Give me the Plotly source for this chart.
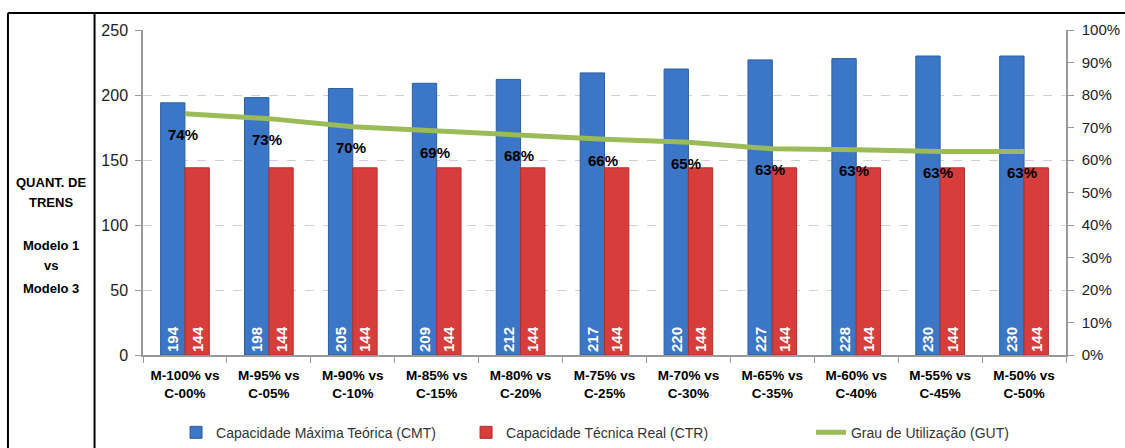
import plotly.graph_objects as go

categories = ["M-100% vs<br>C-00%", "M-95% vs<br>C-05%", "M-90% vs<br>C-10%", "M-85% vs<br>C-15%",
              "M-80% vs<br>C-20%", "M-75% vs<br>C-25%", "M-70% vs<br>C-30%", "M-65% vs<br>C-35%",
              "M-60% vs<br>C-40%", "M-55% vs<br>C-45%", "M-50% vs<br>C-50%"]
cmt = [194, 198, 205, 209, 212, 217, 220, 227, 228, 230, 230]
ctr = [144, 144, 144, 144, 144, 144, 144, 144, 144, 144, 144]
gut = [0.7423, 0.7273, 0.7024, 0.6890, 0.6792, 0.6636, 0.6545, 0.6344, 0.6316, 0.6261, 0.6261]
side_lines = ["QUANT. DE", "TRENS", "Modelo 1", "vs", "Modelo 3"]

FONT = "Liberation Sans, Arial, sans-serif"
BLUE = "#3b77c6"
RED = "#d63d3b"
GREEN = "#9bbb59"

fig = go.Figure()
fig.add_trace(go.Bar(
    x=categories, y=cmt, name="Capacidade Máxima Teórica (CMT)", legend="legend",
    marker=dict(color=BLUE, line=dict(color="#2d5f9e", width=1)),
    text=[str(v) for v in cmt], textposition="inside", insidetextanchor="start",
    textangle=-90, textfont=dict(color="white", size=15, family=FONT, weight="bold"),
))
fig.add_trace(go.Bar(
    x=categories, y=ctr, name="Capacidade Técnica Real (CTR)", legend="legend2",
    marker=dict(color=RED, line=dict(color="#a83230", width=1)),
    text=[str(v) for v in ctr], textposition="inside", insidetextanchor="start",
    textangle=-90, textfont=dict(color="white", size=15, family=FONT, weight="bold"),
))
fig.add_trace(go.Scatter(
    x=categories, y=gut, name="Grau de Utilização (GUT)", yaxis="y2", legend="legend3",
    mode="lines", line=dict(color=GREEN, width=5),
))

# percentage labels under the utilisation line
for c, g in zip(categories, gut):
    fig.add_annotation(x=c, y=g, yref="y2", text=f"<b>{round(g * 100)}%</b>",
                       showarrow=False, yshift=-21, xshift=-2,
                       font=dict(size=15, color="black", family=FONT))

# side label, one line at a time
for txt, yy in zip(side_lines, [0.532, 0.468, 0.338, 0.274, 0.206]):
    fig.add_annotation(xref="paper", yref="paper", x=-0.0997, y=yy, xanchor="center",
                       yanchor="middle", text=f"<b>{txt}</b>", showarrow=False,
                       font=dict(size=13, color="black", family=FONT))

# frame lines
ly = dict(color="black", width=2)
fig.add_shape(type="line", xref="paper", yref="paper", x0=-0.1463, x1=1.07, y0=1.0523, y1=1.0523, line=ly)
fig.add_shape(type="line", xref="paper", yref="paper", x0=-0.1463, x1=-0.1463, y0=1.0523, y1=-0.3, line=ly)
fig.add_shape(type="line", xref="paper", yref="paper", x0=-0.0525, x1=-0.0525, y0=1.0523, y1=-0.3, line=ly)

leg_common = dict(orientation="h", y=-0.19, xanchor="left", yanchor="top",
                  font=dict(size=14, color="#333", family=FONT), bgcolor="rgba(0,0,0,0)")

fig.update_layout(
    width=1125, height=448,
    margin=dict(l=143, r=59, t=30, b=93, autoexpand=False),
    paper_bgcolor="white", plot_bgcolor="white",
    barmode="group", bargap=0.42, bargroupgap=0,
    font=dict(family=FONT, color="#222"),
    showlegend=True,
    legend=dict(x=0.0358, **leg_common),
    legend2=dict(x=0.350, **leg_common),
    legend3=dict(x=0.7237, **leg_common),
    xaxis=dict(showline=True, linecolor="#999", linewidth=1.5, ticks="outside",
               tickson="boundaries", ticklen=6, tickcolor="#999", ticklabelstandoff=7,
               tickfont=dict(size=13.5, color="black", family=FONT, weight="bold")),
    yaxis=dict(range=[0, 250], dtick=50, showline=True, linecolor="#999", linewidth=1.5,
               ticks="outside", ticklen=6, tickcolor="#999", ticklabelstandoff=4,
               showgrid=True, gridcolor="#d0d0d0", griddash="dash", zeroline=False,
               tickfont=dict(size=16, color="#222", family=FONT)),
    yaxis2=dict(range=[0, 1], dtick=0.1, tickformat=".0%", overlaying="y", side="right",
                showline=True, linecolor="#999", linewidth=1.5, ticks="outside", ticklen=6,
                tickcolor="#999", showgrid=False, zeroline=False, ticklabelstandoff=5,
                tickfont=dict(size=15, color="#222", family=FONT)),
)

fig.write_html("out.html")
